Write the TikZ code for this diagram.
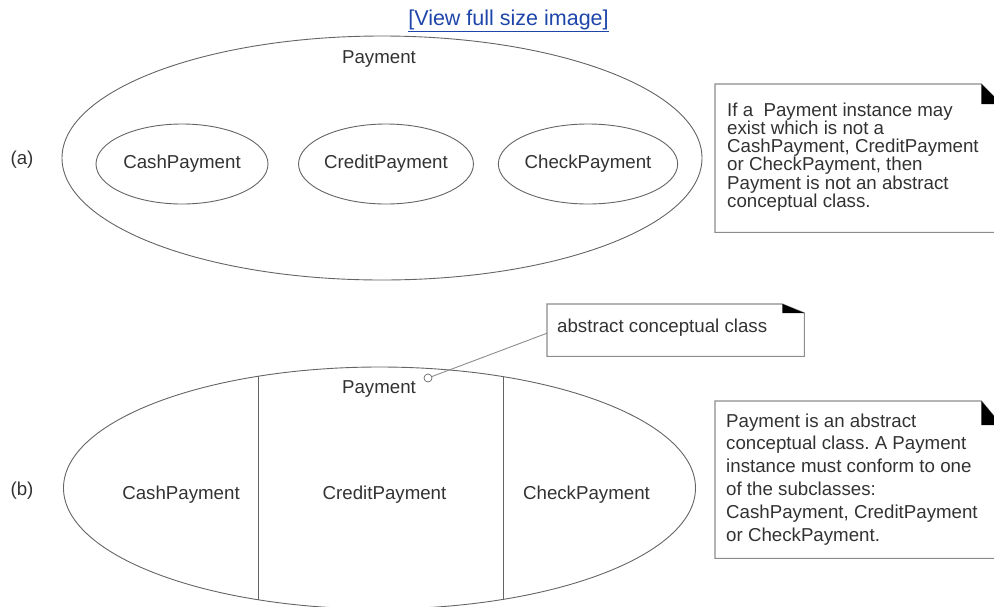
\documentclass[tikz,border=0pt]{standalone}
\usepackage{fontspec}
\setmainfont{Liberation Sans}
\usetikzlibrary{shapes.geometric,positioning}
\definecolor{umlLine}{RGB}{100,100,100}
\definecolor{umlText}{RGB}{50,50,50}
\definecolor{noteEdge}{RGB}{140,140,140}
\definecolor{linkBlue}{RGB}{30,70,170}
\frenchspacing

\tikzset{
  classell/.style={draw=umlLine, line width=0.9pt, ellipse, inner sep=0pt,
    text=umlText, font=\fontsize{18.7}{20}\selectfont},
  lbl/.style={text=umlText, font=\fontsize{18.7}{20}\selectfont, inner sep=0pt},
  notebox/.style={rectangle, inner sep=0pt, anchor=north west},
  noteedge/.style={draw=noteEdge, line width=1.1pt},
}

% note outline with the black folded corner
\newcommand{\umlnote}[3]{%
  \draw[noteedge] (#1.north west) -- ([xshift=-#2]#1.north east)
    -- ([yshift=-#3]#1.north east) -- (#1.south east) -- (#1.south west) -- cycle;
  \fill[black] ([xshift=-#2]#1.north east) -- ([xshift=-#2,yshift=-#3]#1.north east)
    -- ([yshift=-#3]#1.north east) -- cycle;}

\begin{document}
\begin{tikzpicture}[x=1pt,y=-1pt]
\clip (0,0) rectangle (994,606);

\node[text=linkBlue, font=\fontsize{21.5}{24}\selectfont, inner sep=0pt, anchor=base] (viewLink) at (508.5,25) {\underline{[View full size image]}};

% (a) Payment with its subclasses as subsets
\node[lbl, anchor=base] (tagA) at (22,164) {(a)};
\node[classell, minimum width=640pt, minimum height=244pt] (payA) at (382,158) {};
\node[lbl, anchor=base] (payAname) at (379,63) {Payment};
\node[classell, minimum width=172pt, minimum height=80pt] (cashA) at (182,164) {CashPayment};
\node[classell, minimum width=172pt, minimum height=80pt] (creditA) at (386,164) {CreditPayment};
\node[classell, minimum width=172pt, minimum height=80pt] (checkA) at (588,164) {CheckPayment};

\node[notebox, minimum width=286pt, minimum height=148pt] (noteA) at (715,84) {};
\umlnote{noteA}{20pt}{20pt}
\node[lbl, anchor=base west] (noteAtext) at (727,116) {\parbox[t]{265pt}{\raggedright\fontsize{18.7}{18.3}\selectfont
If a\ \ Payment instance may\\
exist which is not a\\
CashPayment, CreditPayment\\
or CheckPayment, then\\
Payment is not an abstract\\
conceptual class.}};

% (b) Payment partitioned by its subclasses
\node[lbl, anchor=base] (tagB) at (22,495) {(b)};
\node[classell, minimum width=632pt, minimum height=242pt] (payB) at (379.5,488) {};
\begin{scope}
  \clip (379.5,488) ellipse [x radius=316, y radius=121];
  \draw[umlLine, line width=0.9pt] (258,360) -- (258,620);
  \draw[umlLine, line width=0.9pt] (503,360) -- (503,620);
\end{scope}
\node[lbl, anchor=base] (payBname) at (379,393) {Payment};
\node[lbl] (cashB) at (181,495) {CashPayment};
\node[lbl] (creditB) at (384.5,495) {CreditPayment};
\node[lbl] (checkB) at (586.5,495) {CheckPayment};

\node[notebox, minimum width=257pt, minimum height=52pt] (noteC) at (547,304) {};
\umlnote{noteC}{22pt}{9pt}
\node[lbl, anchor=base west] (noteCtext) at (557,332) {abstract conceptual class};
\node[draw=umlLine, circle, minimum size=8pt, inner sep=0pt, line width=0.7pt] (abstractDot) at (428,378) {};
\draw[noteEdge, line width=0.9pt] (abstractDot) -- ([yshift=-3pt]noteC.west);

\node[notebox, minimum width=286pt, minimum height=157pt] (noteB) at (715,401) {};
\umlnote{noteB}{20pt}{24pt}
\node[lbl, anchor=base west] (noteBtext) at (726,427) {\parbox[t]{265pt}{\raggedright\fontsize{18.7}{22.8}\selectfont
Payment is an abstract\\
conceptual class. A Payment\\
instance must conform to one\\
of the subclasses:\\
CashPayment, CreditPayment\\
or CheckPayment.}};
\end{tikzpicture}
\end{document}
